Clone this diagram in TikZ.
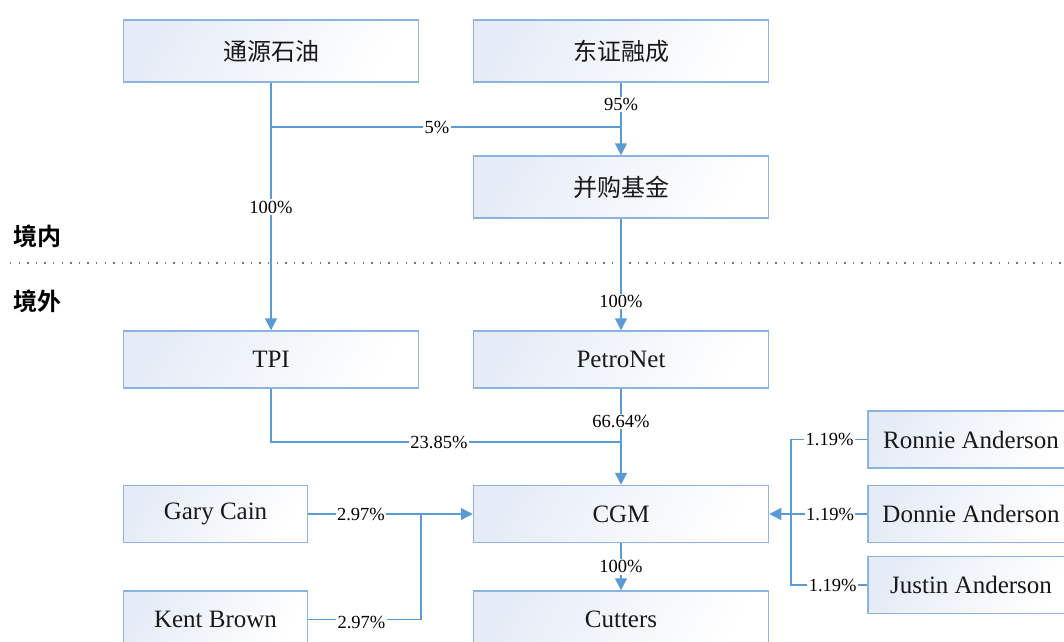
\documentclass[tikz,border=0pt]{standalone}
\usepackage{fontspec}
\setmainfont{Liberation Serif}
\newfontfamily\cjk{Noto Sans CJK SC}[BoldFont={Noto Sans CJK SC Bold}]
\usetikzlibrary{arrows.meta}
\definecolor{boxline}{HTML}{8DB3E2}
\definecolor{connc}{HTML}{5B9BD5}
\definecolor{boxfill}{HTML}{E6ECF7}
\begin{document}
\begin{tikzpicture}[x=1pt,y=-1pt,
 box/.style={draw=boxline, line width=1.5pt, left color=boxfill, right color=white, shading angle=60,
   minimum height=57pt, inner sep=0pt, font=\fontsize{25}{28}\selectfont, text=black!90},
 wbox/.style={box, minimum width=295pt},
 sbox/.style={box, minimum width=184pt},
 rbox/.style={box, minimum width=206pt},
 cbox/.style={wbox, minimum height=62pt, font=\cjk\fontsize{24}{28}\selectfont},
 link/.style={draw=connc, line width=1.5pt},
 arr/.style={link, -{Triangle[width=12pt,length=12pt]}},
 lab/.style={fill=white, inner sep=1.5pt, font=\fontsize{18.5}{20}\selectfont},
 zone/.style={font=\cjk\bfseries\fontsize{24}{28}\selectfont, anchor=west, inner sep=0pt},
 sep/.style={draw=black!55, line width=1.3pt, dash pattern=on 1.3pt off 7.3pt}
]
\useasboundingbox (0,0) rectangle (1064,641);

% boxes
\node[cbox] (tong) at (271,51) {通源石油};
\node[cbox] (dong) at (621,51) {东证融成};
\node[cbox] (bing) at (621,187) {并购基金};
\node[wbox] (tpi) at (271,359.5) {TPI};
\node[wbox] (petro) at (621,359.5) {PetroNet};
\node[wbox] (cgm) at (621,514) {CGM};
\node[wbox] (cut) at (621,619.5) {Cutters};
\node[sbox] (gary) at (215.5,514) {Gary Cain};
\node[sbox] (kent) at (215.5,619.5) {Kent Brown};
\node[rbox] (ronnie) at (971,439.5) {Ronnie Anderson};
\node[rbox] (donnie) at (971,514) {Donnie Anderson};
\node[rbox] (justin) at (971,585) {Justin Anderson};

% zone labels and separator
\node[zone] (inner) at (13,236) {境内};
\node[zone] (outer) at (13,301) {境外};
\coordinate (sepL) at (10,263);
\coordinate (sepR) at (1064,263);
\draw[sep] (sepL) -- (sepR);

% junction points
\coordinate (j1) at (271,127);
\coordinate (j2) at (621,127);
\coordinate (j3) at (621,442);
\coordinate (j4) at (421,514);
\coordinate (j5) at (791,514);

% connectors
\draw[arr] (tong.south) -- node[lab, pos=0.502] {100\%} (tpi.north);
\draw[link] (j1) -- node[lab, pos=0.474] {5\%} (j2);
\draw[arr] (dong.south) -- node[lab, pos=0.30] {95\%} (bing.north);
\draw[arr] (bing.south) -- node[lab, pos=0.743] {100\%} (petro.north);
\draw[arr] (petro.south) -- node[lab, pos=0.34] {66.64\%} (cgm.north);
\draw[link] (tpi.south) |- node[lab, pos=0.74] {23.85\%} (j3);
\draw[arr] (gary.east) -- node[lab, pos=0.32] {2.97\%} (cgm.west);
\draw[link] (kent.east) -| node[lab, pos=0.236, yshift=-3pt] {2.97\%} (j4);
\draw[arr] (cgm.south) -- node[lab, pos=0.5] {100\%} (cut.north);
\draw[link] (ronnie.west) -| node[lab, pos=0.247] {1.19\%} (j5);
\draw[link] (justin.west) -| node[lab, pos=0.227] {1.19\%} (j5);
\draw[arr] (donnie.west) -- node[lab, pos=0.38] {1.19\%} (cgm.east);
\end{tikzpicture}
\end{document}
